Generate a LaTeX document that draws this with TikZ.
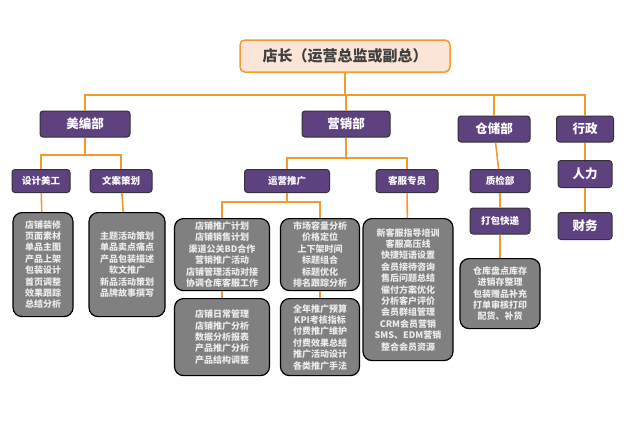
\documentclass[tikz,border=0pt]{standalone}
\usepackage{fontspec}
\setmainfont{Noto Sans CJK SC}
\usetikzlibrary{positioning}
\definecolor{linkorange}{HTML}{F39A2E}
\definecolor{deptpurple}{HTML}{5E4280}
\definecolor{bosspeach}{HTML}{FBE5D6}
\definecolor{taskgray}{HTML}{808080}
\begin{document}
\begin{tikzpicture}[x=1pt,y=-1pt]

			% Styles
			\tikzset{
				boss/.style={
					rectangle, draw=linkorange, line width=1.5pt, rounded corners=5pt,
					fill=bosspeach, minimum width=210pt, minimum height=32pt,
					font=\fontsize{15}{17}\selectfont\bfseries, text=black!75
				},
				dept/.style={
					rectangle, draw=black!80, line width=1pt, rounded corners=3pt,
					fill=deptpurple, text=white, minimum height=26pt,
					font=\fontsize{12.5}{14}\selectfont\bfseries
				},
				team/.style={
					rectangle, draw=black!80, line width=1pt, rounded corners=3pt,
					fill=deptpurple, text=white, minimum height=23pt,
					font=\fontsize{9.5}{11}\selectfont\bfseries
				},
				task/.style={
					rectangle, draw=black, line width=1.2pt, rounded corners=9pt,
					fill=taskgray, text=white!92!black, align=center, anchor=north,
					inner sep=2pt, font=\fontsize{9}{11.4}\selectfont\bfseries
				},
				link/.style={draw=linkorange, line width=1.6pt}
			}
			\useasboundingbox (0,0) rectangle (640,421);

			% Top
			\node (boss) [boss] at (345,56) {店长（运营总监或副总）};

			% Departments
			\node (art) [dept, minimum width=90pt] at (85,124) {美编部};
			\node (mkt) [dept, minimum width=88pt] at (346,124) {营销部};
			\node (store) [dept, minimum width=72pt] at (494,129) {仓储部};
			\node (admin) [dept, minimum width=57pt] at (585,129) {行政};
			\node (hr) [dept, minimum width=54pt, minimum height=27pt] at (585,174) {人力};
			\node (fin) [dept, minimum width=54pt, minimum height=27pt] at (585,226) {财务};

			% Teams
			\node (design) [team, minimum width=58pt] at (41,181) {设计美工};
			\node (copy) [team, minimum width=62pt] at (121,181) {文案策划};
			\node (ops) [team, minimum width=85pt] at (287,181) {运营推广};
			\node (cs) [team, minimum width=62pt] at (407,181) {客服专员};
			\node (qc) [team, minimum width=60pt] at (500,181) {质检部};
			\node (pack) [team, minimum width=60pt, minimum height=26pt] at (500,221) {打包快递};

			% Task boxes
			\node (designt) [task, minimum width=60pt, minimum height=104pt] at (43,212) {店铺装修\\页面素材\\单品主图\\产品上架\\包装设计\\首页调整\\效果跟踪\\总结分析};
			\node (copyt) [task, minimum width=76pt, minimum height=104pt] at (127,212) {主题活动策划\\单品卖点痛点\\产品包装描述\\软文推广\\新品活动策划\\品牌故事撰写};
			\node (opsa) [task, minimum width=95pt, minimum height=72pt] at (222,218) {店铺推广计划\\店铺销售计划\\渠道公关BD合作\\营销推广活动\\店铺管理活动对接\\协调仓库客服工作};
			\node (opsb) [task, minimum width=79pt, minimum height=72pt] at (320,218) {市场容量分析\\价格定位\\上下架时间\\标题组合\\标题优化\\排名跟踪分析};
			\node (opsc) [task, minimum width=95pt, minimum height=77pt] at (222,298) {店铺日常管理\\店铺推广分析\\数据分析报表\\产品推广分析\\产品结构调整};
			\node (opsd) [task, minimum width=79pt, minimum height=77pt] at (320,298) {全年推广预算\\KPI考核指标\\付费推广维护\\付费效果总结\\推广活动设计\\各类推广手法};
			\node (cst) [task, minimum width=90pt, minimum height=142pt] at (408,218) {新客服指导培训\\客服高压线\\快捷短语设置\\会员接待咨询\\售后问题总结\\催付方案优化\\分析客户评价\\会员群组管理\\CRM会员营销\\SMS、EDM营销\\整合会员资源};
			\node (packt) [task, minimum width=80pt, minimum height=70pt] at (500,258) {仓库盘点库存\\进销存整理\\包装赠品补充\\打单审核打印\\配货、补货};

			% Connectors
			\coordinate (bus) at (345,95);
			\draw[link] (boss) -- (bus);
			\draw[link] (art.north) |- (bus) -| (admin.north);
			\draw[link] (mkt.north) -- (mkt.north |- bus);
			\draw[link] (store.north) -- (store.north |- bus);
			\draw[link] (admin) -- (hr) -- (fin);
			\coordinate (artbus) at (85,155);
			\draw[link] (art) -- (artbus);
			\draw[link] (design.north) |- (artbus) -| (copy.north);
			\coordinate (mktbus) at (346,158);
			\draw[link] (mkt) -- (mktbus);
			\draw[link] (ops.north) |- (mktbus) -| (cs.north);
			\coordinate (opsbus) at (287,202);
			\draw[link] (ops) -- (opsbus);
			\draw[link] (opsa.north) |- (opsbus) -| (opsb.north);
			\draw[link] (opsa) -- (opsc);
			\draw[link] (opsb) -- (opsd);
			\draw[link] (cs) -- (cst);
			\draw[link] (design) -- (designt);
			\draw[link] (copy) -- (copyt);
			\draw[link] (store) -- (qc) -- (pack) -- (packt);

		\end{tikzpicture}
\end{document}
